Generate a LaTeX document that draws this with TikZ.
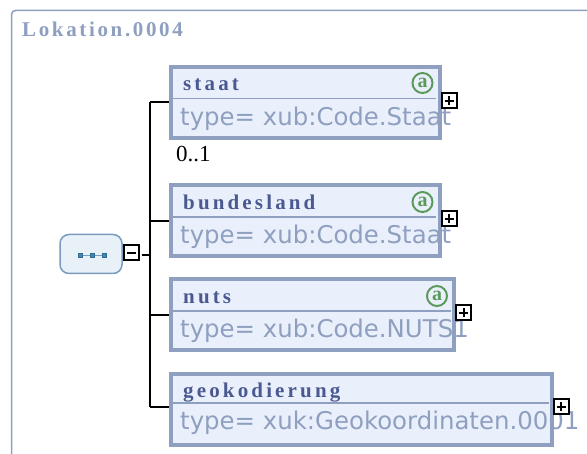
\documentclass[tikz,border=0pt]{standalone}
\usepackage{fontspec}
\setmainfont{Liberation Serif}
\newfontfamily\typefont{DejaVu Sans}
\newfontfamily\namefont[LetterSpace=15]{Liberation Serif}
\newfontfamily\titlefont[LetterSpace=12.6]{Liberation Serif}
\definecolor{frameblue}{HTML}{8E9FC0}
\definecolor{namblue}{HTML}{4A5A90}
\definecolor{boxfill}{HTML}{EAF0FB}
\definecolor{seqfill}{HTML}{E8F0F8}
\definecolor{seqline}{HTML}{7A9CC0}
\definecolor{dotblue}{HTML}{3F87B5}
\definecolor{attrgreen}{HTML}{5C9A5C}

\begin{document}
\begin{tikzpicture}[x=1pt,y=-1pt]
  \tikzstyle{frame}=[line width=1.5pt,draw=frameblue,rounded corners=4pt]
  \tikzstyle{element}=[rectangle,line width=4pt,draw=frameblue,fill=boxfill,
  		       anchor=north west,outer sep=2pt,minimum height=71pt]
  \tikzstyle{divider}=[line width=1.5pt,draw=frameblue]
  \tikzstyle{conn}=[line width=2pt,black]
  \tikzstyle{elname}=[anchor=base west,inner sep=0pt,text=namblue,
  		      font=\namefont\bfseries\fontsize{21}{21}\selectfont]
  \tikzstyle{eltype}=[anchor=base west,inner sep=0pt,text=frameblue,
  		      font=\typefont\fontsize{24.4}{24.4}\selectfont]
  \tikzstyle{attr}=[circle,line width=2pt,draw=attrgreen,fill=boxfill,text=attrgreen,inner sep=0pt,
  		    minimum size=20pt,font=\bfseries\fontsize{20}{20}\selectfont]
  \tikzstyle{toggle}=[rectangle,line width=2pt,draw=black,fill=white,inner sep=0pt,minimum size=15pt]
  \tikzstyle{plus box}=[toggle,path picture={
  	\draw[line width=2pt] (path picture bounding box.center) ++(-4.5,0) -- ++(9,0);
  	\draw[line width=2pt] (path picture bounding box.center) ++(0,-4.5) -- ++(0,9);}]
  \tikzstyle{minus box}=[toggle,path picture={
  	\draw[line width=2pt] (path picture bounding box.center) ++(-4.5,0) -- ++(9,0);}]
  \tikzstyle{sequence}=[rectangle,rounded corners=9pt,line width=1.5pt,draw=seqline,fill=seqfill,
  			minimum width=62pt,minimum height=39pt]
  \tikzstyle{dot}=[rectangle,draw=dotblue!80!black,fill=dotblue,inner sep=0pt,minimum size=4pt]

  \useasboundingbox (0,0) rectangle (587,454);
  \fill[white] (0,0) rectangle (587,454);
  \draw[frame] (587,10.5) -- (11.5,10.5) -- (11.5,454);
  \node [anchor=base west,inner sep=0pt,text=frameblue,
  	 font=\titlefont\bfseries\fontsize{21}{21}\selectfont] (title) at (22,36.5) {Lokation.0004};

  \coordinate (t0) at (150,254.7);
  \coordinate (t1) at (150,102.5);
  \coordinate (t2) at (150,221);
  \coordinate (t3) at (150,314.7);
  \coordinate (t4) at (150,406.7);

  \node [element,minimum width=268.5pt] (e1) at (169,65) {};
  \node [element,minimum width=268.5pt] (e2) at (169,183) {};
  \node [element,minimum width=283pt] (e3) at (169,277) {};
  \node [element,minimum width=381pt] (e4) at (169,372) {};

  \draw[divider] (e1.north west) ++(2,33.5) -- ++(265,0);
  \draw[divider] (e2.north west) ++(2,34) -- ++(265,0);
  \draw[divider] (e3.north west) ++(2,34) -- ++(280,0);
  \draw[divider] (e4.north west) ++(2,31) -- ++(378,0);

  \draw[conn] (t1) -- (t4);
  \draw[conn] (t1) -- (t1 -| e1.west);
  \draw[conn] (t2) -- (t2 -| e2.west);
  \draw[conn] (t3) -- (t3 -| e3.west);
  \draw[conn] (t4) -- (t4 -| e4.west);

  \node [elname] (n1) at (183,91) {staat};
  \node [elname] (n2) at (183,210) {bundesland};
  \node [elname] (n3) at (183,304) {nuts};
  \node [elname] (n4) at (183,397.5) {geokodierung};

  \node [eltype] (y1) at (180,125.5) {type= xub:Code.Staat};
  \node [eltype] (y2) at (180,244) {type= xub:Code.Staat};
  \node [eltype] (y3) at (180,338) {type= xub:Code.NUTS1};
  \node [eltype] (y4) at (180,430) {type= xuk:Geokoordinaten.0001};

  \node [attr] (a1) at (422.5,83) {a};
  \node [attr] (a2) at (422.5,202) {a};
  \node [attr] (a3) at (437,296) {a};

  \node [plus box] (x1) at (449,101) {};
  \node [plus box] (x2) at (449,219) {};
  \node [plus box] (x3) at (463.7,313) {};
  \node [plus box] (x4) at (561,407) {};

  \node [anchor=base west,inner sep=0pt,font=\fontsize{23}{23}\selectfont] (card) at (176,161.5) {0..1};

  \node [sequence] (p1) at (91,254) {};
  \node [minus box] (m1) at (131,253) {};
  \draw[conn,shorten <=2pt] (m1.east |- t0) -- (t0);

  \node [dot] (d1) at (80.5,255.5) {};
  \node [dot] (d2) at (92.5,255.5) {};
  \node [dot] (d3) at (104.5,255.5) {};
  \draw[draw=seqline] (d1) -- (d2);
  \draw[draw=seqline] (d2) -- (d3);
\end{tikzpicture}
\end{document}
